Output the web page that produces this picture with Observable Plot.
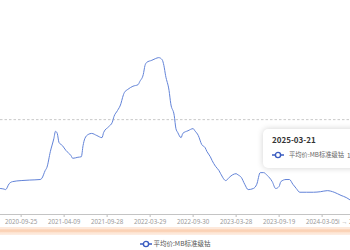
<!DOCTYPE html>
<html>
<head>
<meta charset="utf-8">
<script src="https://cdn.jsdelivr.net/npm/d3@7"></script>
<script src="https://cdn.jsdelivr.net/npm/@observablehq/plot@0.6"></script>
<style>
  html, body { margin: 0; padding: 0; background: #fff; }
  body { width: 350px; height: 250px; overflow: hidden; position: relative;
         font-family: "Noto Sans CJK SC", "Noto Sans", sans-serif; }
  #chart { position: absolute; left: 0; top: 0; }
  #slider { position: absolute; left: 0; top: 227px; width: 350px; height: 8px;
            background: linear-gradient(#fde9dc 0%, #fde9dc 20%, #fbd2b6 35%, #fbd2b6 55%, #fde4d2 70%, #fdeee4 100%); }
  #legend { position: absolute; top: 237px; left: 0; width: 350px; text-align: center;
            font-size: 6.5px; color: #555; line-height: 12px; }
  #legend svg { vertical-align: middle; margin-right: 2px; }
  #tip { position: absolute; left: 263px; top: 129px; width: 100px; height: 39px;
         background: #fff; border-radius: 5px; box-shadow: 0 0 6px rgba(0,0,0,0.18); }
  #tip .t { position: absolute; left: 9px; top: 5px; font-size: 8px; font-weight: bold; color: #333; }
  #tip .r { position: absolute; left: 9px; top: 21px; font-size: 6.3px; color: #666; white-space: nowrap; line-height: 10px; }
  #tip .r svg { vertical-align: middle; margin-right: 5px; }
  #tip .v { position: absolute; left: 84px; top: 21px; font-size: 6.5px; color: #666; line-height: 10px; }
</style>
</head>
<body>
<div id="chart"></div>
<div id="slider"></div>
<div id="tip"></div>
<div id="legend"></div>
<script>
// Category indices (trading periods) and MB standard-grade cobalt average price
const idx = [0,2,3,5,7,12,17,23,24,26,27,29,31,32,33,34,36,38,41,42,45,47,48,49,51,53,56,59,60,63,65,66,68,70,71,72,74,77,80,81,83,84,85,88,90,92,94,95,96,98,99,101,102,103,105,106,109,112,113,115,117,119,120,122,123,125,127,128,131,133,135,137,138,140,142,144,147,149,151,153,155,158,160,162,163,166,168,170,172,174,178,182,186,190,194,198,201,203];
const price = [14.9,14.8,14.7,15.8,16.2,16.4,16.5,16.6,16.8,18.3,18.9,21.9,24.3,25.7,25.3,23.6,23.0,22.1,21.1,20.6,20.8,20.9,23.0,24.3,25.1,25.3,24.9,24.5,25.5,26.6,27.4,28.5,29.6,30.9,32.1,33.0,33.6,34.2,34.5,35.1,36.4,38.1,38.7,39.1,39.4,39.6,39.2,38.1,36.2,33.4,30.9,28.7,26.2,25.5,24.5,25.3,25.8,26.2,25.8,24.9,23.2,22.6,21.9,20.9,20.2,19.1,18.3,17.7,16.4,17.0,17.5,17.7,17.5,17.0,15.7,14.7,14.9,15.7,17.9,17.9,17.4,16.2,14.9,15.3,16.2,16.6,16.6,15.7,14.9,14.2,14.2,14.2,14.3,14.5,14.2,13.6,13.2,12.8];
const avgLine = [27.9];
const tickIdx = [12,37,62,87,112,137,162,187,212];
const tickLabels = ["2020-09-25","2021-04-09","2021-09-28","2022-03-29","2022-09-30","2023-03-28","2023-09-19","2024-03-05","2024-08-27"];
const seriesName = "平均价:MB标准级钴";
const tipDate = "2025-03-21";
const tipValue = "1";

const data = idx.map((i, k) => ({i, v: price[k]}));

const chart = Plot.plot({
  width: 350,
  height: 226,
  marginLeft: 0,
  marginRight: 0,
  marginTop: 28.5,
  marginBottom: 12,
  style: {background: "transparent", fontFamily: "'Noto Sans', sans-serif", overflow: "visible", color: "#999"},
  x: {domain: [0, 203.5]},
  y: {domain: [10, 45], axis: null},
  marks: [
    Plot.ruleY(avgLine, {stroke: "#c8c8c8", strokeDasharray: "2.5,2", strokeWidth: 1}),
    Plot.axisX({ticks: tickIdx, tickFormat: d => tickLabels[tickIdx.indexOf(d)], tickSize: 3, tickPadding: 2.5, fontSize: 6.2, stroke: "#bbb", fill: "#9a9a9a"}),
    Plot.ruleY([10], {stroke: "#c4c4c4", strokeWidth: 1}),
    Plot.line(data, {x: "i", y: "v", stroke: "#6283d8", strokeWidth: 1, curve: "monotone-x"})
  ]
});
document.getElementById("chart").appendChild(chart);

const marker = (c) => `<svg width="12" height="8" viewBox="0 0 12 8"><line x1="0" y1="4" x2="12" y2="4" stroke="${c}" stroke-width="1.5"/><circle cx="6" cy="4" r="2.6" fill="#fff" stroke="${c}" stroke-width="1.4"/></svg>`;
document.getElementById("legend").innerHTML = marker("#3a5cc0") + seriesName;
document.getElementById("tip").innerHTML =
  `<div class="t">${tipDate}</div><div class="r">${marker("#3a5cc0")}${seriesName}</div><div class="v">${tipValue}</div>`;
</script>
</body>
</html>
